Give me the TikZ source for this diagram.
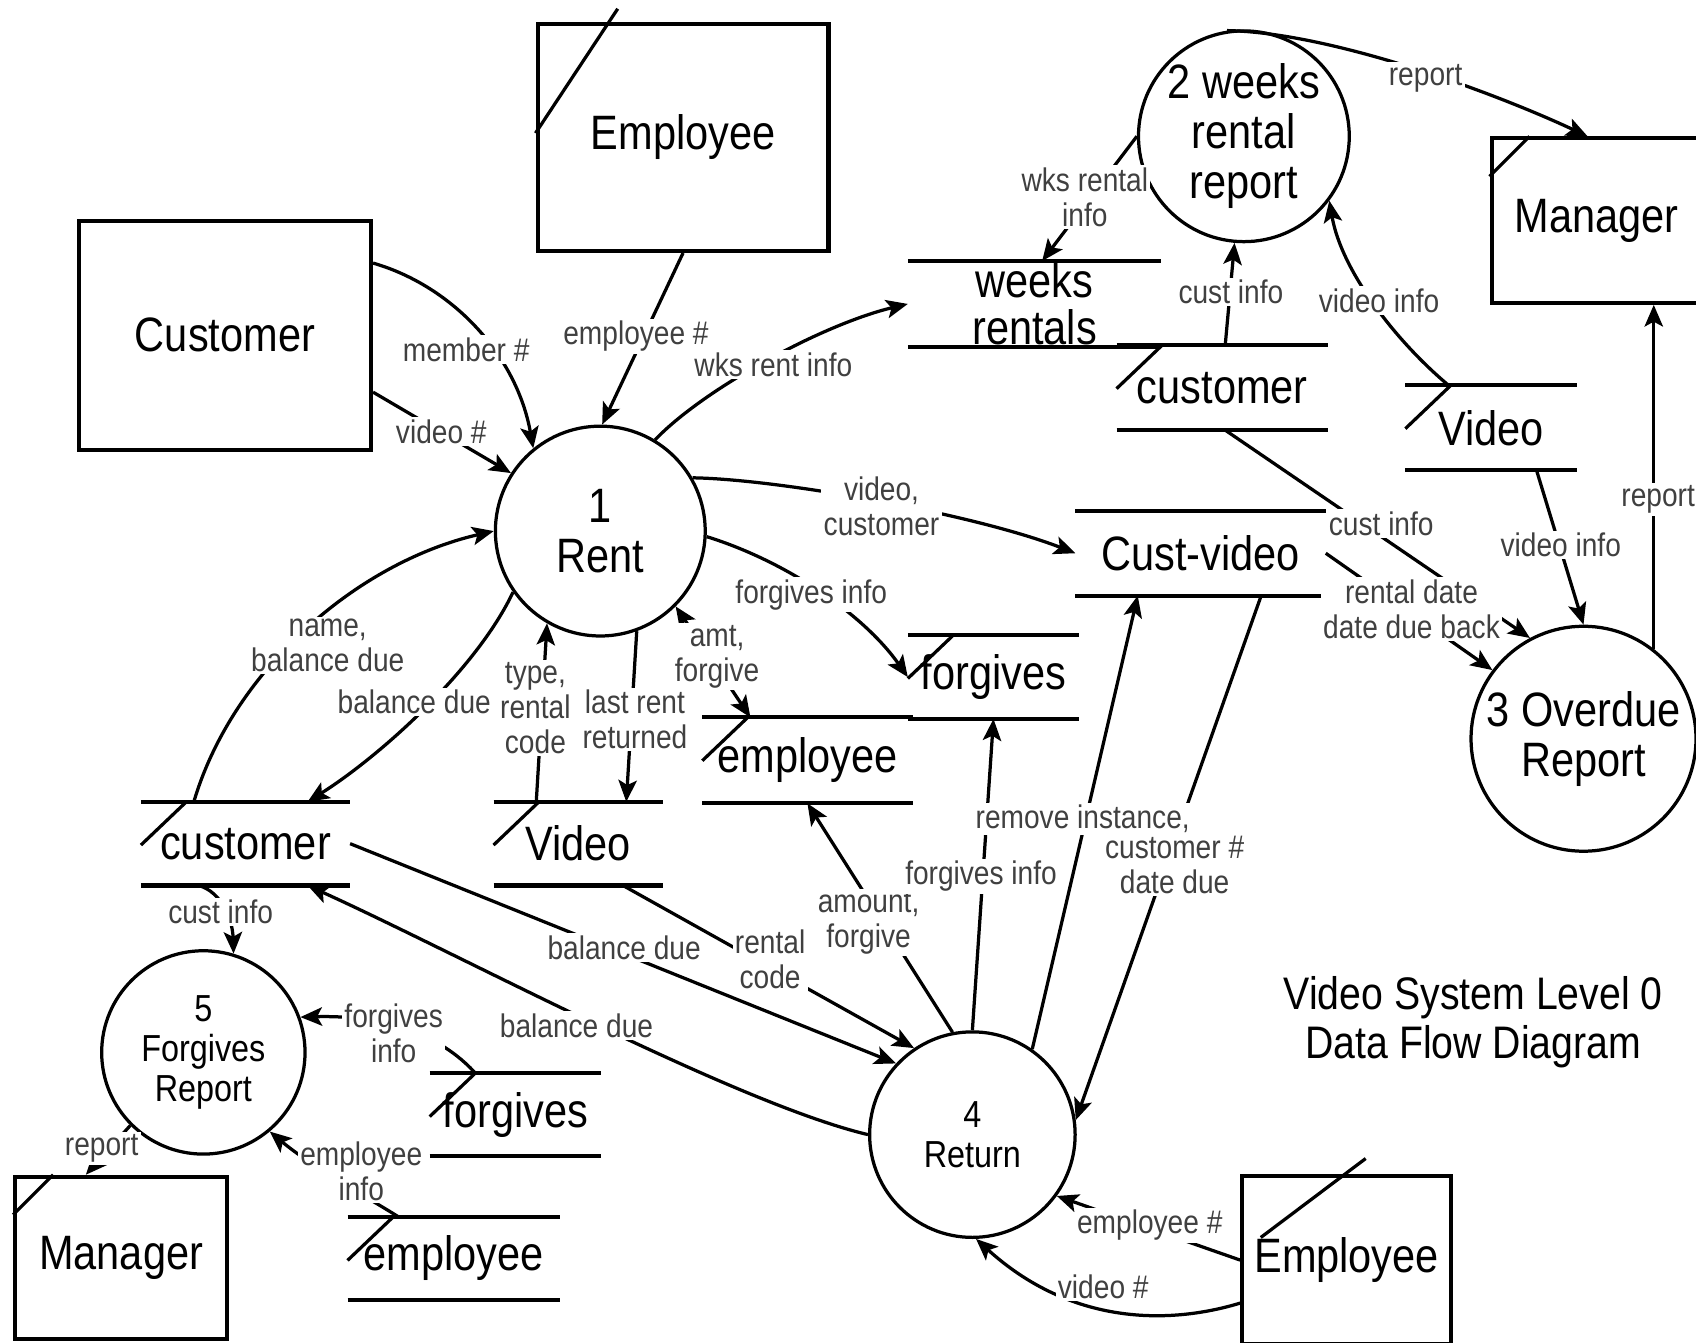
\documentclass[tikz,border=0pt]{standalone}
\usepackage{fontspec}
\setmainfont{Liberation Sans}[FakeStretch=0.86]
\usetikzlibrary{arrows.meta}

\newcommand\bigtext{\fontsize{12.7}{13.2}\selectfont}
\newcommand\midtext{\fontsize{9.9}{10.5}\selectfont}
\newcommand\lbltext{\fontsize{8.6}{9.2}\selectfont}

\begin{document}
\begin{tikzpicture}[x=0.1mm, y=-0.1mm,
  >={Stealth[length=2mm,width=1.7mm,inset=0.45mm]},
  entity/.style={draw, line width=0.38mm, fill=white, inner sep=0pt, font=\bigtext},
  process/.style={draw, circle, line width=0.3mm, fill=white, inner sep=0pt, align=center, font=\bigtext},
  storeline/.style={line width=0.38mm},
  store/.style={inner sep=0pt, font=\bigtext, align=center,
    append after command={(\tikzlastnode.north west) edge[storeline] (\tikzlastnode.north east)
      (\tikzlastnode.south west) edge[storeline] (\tikzlastnode.south east)}},
  slashed/.style={append after command={([xshift=4.2mm]\tikzlastnode.north west) edge[line width=0.3mm] ([yshift=-4mm]\tikzlastnode.north west)}},
  flow/.style={->, line width=0.3mm},
  lbl/.style={fill=white, inner sep=0.6pt, text=black!75, font=\lbltext, align=center}]
\useasboundingbox[fill=white] (0,0) rectangle (1568,1241);

% external entities
\node[entity, minimum width=26.9mm, minimum height=21mm] (emptop) at (631.5,127) {Employee};
\node[entity, minimum width=27mm, minimum height=21.2mm] (customer) at (208,310) {Customer};
\node[entity, minimum width=19.4mm, minimum height=15.2mm] (mgrtop) at (1476,204) {Manager};
\node[entity, minimum width=19.6mm, minimum height=15mm] (mgrbot) at (112,1163) {Manager};
\node[entity, minimum width=19.3mm, minimum height=15.6mm] (empbot) at (1245,1165) {Employee};
\draw[line width=0.3mm] ([shift={(7.6mm,1.2mm)}]emptop.north west) -- ([yshift=-10.3mm]emptop.north west);
\draw[line width=0.3mm] ([xshift=3.7mm]mgrtop.north west) -- ([yshift=-3.7mm]mgrtop.north west);
\draw[line width=0.3mm] ([xshift=3.7mm]mgrbot.north west) -- ([yshift=-3.7mm]mgrbot.north west);
\draw[line width=0.3mm] ([shift={(11.6mm,1.4mm)}]empbot.north west) -- ([shift={(1.9mm,-5.9mm)}]empbot.north west);

% processes
\node[process, minimum size=19.4mm] (rent) at (555,491) {1\\Rent};
\node[process, minimum size=19.2mm] (wkrep) at (1150,126) {2 weeks\\rental\\report};
\node[process, minimum size=20.8mm] (overdue) at (1464,683) {3 Overdue\\Report};
\node[process, minimum size=19mm, font=\midtext] (ret) at (899,1049) {4\\Return};
\node[process, minimum size=18.8mm, font=\midtext] (forrep) at (188,973) {5\\Forgives\\Report};

% data stores
\node[store, minimum width=23.3mm, minimum height=7.8mm, font=\fontsize{12.7}{12.2}\selectfont] (weeks) at (956.5,281) {weeks\\rentals};
\node[store, slashed, minimum width=19.4mm, minimum height=7.7mm] (custR) at (1130,358.5) {customer};
\node[store, slashed, minimum width=15.7mm, minimum height=7.7mm] (videoR) at (1378.5,395.5) {Video};
\node[store, minimum width=23mm, minimum height=7.7mm] (custvideo) at (1110,511.5) {Cust-video};
\node[store, slashed, minimum width=15.7mm, minimum height=7.6mm] (forgM) at (918.5,626) {forgives};
\node[store, slashed, minimum width=19.3mm, minimum height=7.8mm] (empM) at (746.5,703) {employee};
\node[store, slashed, minimum width=19.2mm, minimum height=7.6mm] (custL) at (227,780) {customer};
\node[store, slashed, minimum width=15.5mm, minimum height=7.6mm] (videoL) at (534.5,780) {Video};
\node[store, slashed, minimum width=15.7mm, minimum height=7.5mm] (forgB) at (476.5,1030.5) {forgives};
\node[store, slashed, minimum width=19.5mm, minimum height=7.5mm] (empB) at (419.5,1163.5) {employee};

% flows of 1 Rent
\draw[flow] (customer.26) .. controls (420,265) and (478,330) .. (rent.129);
\draw[flow] (customer.-21) -- (rent.147);
\draw[flow] (emptop.south) -- (rent.89);
\draw[flow] (rent.59) .. controls (650,360) and (760,300) .. (weeks.west);
\draw[flow] (rent.30) .. controls (720,443) and (900,475) .. (custvideo.west);
\draw[flow] (rent.-3) .. controls (730,520) and (800,570) .. (forgM.west);
\draw[flow, <->] (rent.-45) -- (empM.143);
\draw[flow] (rent.-70) -- (videoL.41);
\draw[flow] (videoL.135) -- (rent.-120);
\draw[flow] (rent.215) .. controls (440,620) and (350,700) .. (custL.34);
\draw[flow] (custL.141) .. controls (215,620) and (330,520) .. (rent.180);

% flows of 4 Return
\draw[flow] (custL.east) -- (ret.137);
\draw[flow] (videoL.-43) -- (ret.124);
\draw[flow] (ret.101) -- (empM.south);
\draw[flow] (ret.90) -- (forgM.south);
\draw[flow] (ret.55) -- (custvideo.214);
\draw[flow] (custvideo.-35) -- (ret.8);
\draw[flow] (ret.180) .. controls (680,1020) and (420,880) .. (custL.-34);
\draw[flow] (empbot.west) -- (ret.-36);
\draw[flow] (empbot.202) .. controls (1080,1225) and (990,1225) .. (ret.-88);

% flows of 5 Forgives Report
\draw[flow] (custL.222) .. controls (205,825) and (215,850) .. (forrep.73);
\draw[flow] (forgB.134) .. controls (415,965) and (370,938) .. (forrep.20);
\draw[flow] (empB.143) .. controls (345,1110) and (290,1080) .. (forrep.-50);
\draw[flow] (forrep.225) -- (mgrbot.113);

% flows of 2 and 3
\draw[flow] (wkrep.99) .. controls (1230,30) and (1380,85) .. (mgrtop.96);
\draw[flow] (wkrep.180) -- (weeks.80);
\draw[flow] (custR.86) -- (wkrep.-95);
\draw[flow] (videoR.135) .. controls (1290,315) and (1240,250) .. (wkrep.-37);
\draw[flow] (custR.-86) -- (overdue.118);
\draw[flow] (videoR.-43) -- (overdue.90);
\draw[flow] (custvideo.east) -- (overdue.143);
\draw[flow] (overdue.52) -- (overdue.52 |- mgrtop.south);

% labels
\node[lbl] (lmember) at (431,323) {member \#};
\node[lbl] (lvideo1) at (408,399) {video \#};
\node[lbl] (lemp1) at (588,311) {employee \#};
\node[lbl] (lwks) at (715,337) {wks rent info};
\node[lbl] (lvidcust) at (815,468) {video,\\customer};
\node[lbl] (lforg1) at (750,550) {forgives info};
\node[lbl] (lamt) at (663,607) {amt,\\forgive};
\node[lbl] (llast) at (587,665) {last rent\\returned};
\node[lbl] (ltype) at (495,655) {type,\\rental\\code};
\node[lbl] (lbal1) at (383,649) {balance due};
\node[lbl] (lname) at (303,597) {name,\\balance due};
\node[lbl] (lbal2) at (577,876) {balance due};
\node[lbl] (lrcode) at (712,887) {rental\\code};
\node[lbl] (lamount) at (803,853) {amount,\\forgive};
\node[lbl] (lforg2) at (907,810) {forgives info};
\node[lbl] (lremove) at (1001,757) {remove instance,};
\node[lbl] (lcustno) at (1086,800) {customer \#\\date due};
\node[lbl] (lbal3) at (533,948) {balance due};
\node[lbl] (lemp2) at (1063,1133) {employee \#};
\node[lbl] (lvideo2) at (1020,1190) {video \#};
\node[lbl] (lcust1) at (204,843) {cust info};
\node[lbl] (lforg3) at (364,955) {forgives\\info};
\node[lbl] (lempinfo) at (334,1083) {employee\\info};
\node[lbl] (lrep1) at (94,1062) {report};
\node[lbl] (lrep2) at (1318,72) {report};
\node[lbl] (lwksinfo) at (1003,182) {wks rental\\info};
\node[lbl] (lcust2) at (1138,270) {cust info};
\node[lbl] (lvinfo1) at (1275,278) {video info};
\node[lbl] (lcust3) at (1277,484) {cust info};
\node[lbl] (lvinfo2) at (1443,504) {video info};
\node[lbl] (lrdate) at (1305,563) {rental date\\date due back};
\node[lbl] (lrep3) at (1533,462) {report};

\node[font=\fontsize{12}{13.1}\selectfont, align=center] (title) at (1362,945) {Video System Level 0\\Data Flow Diagram};
\end{tikzpicture}
\end{document}
